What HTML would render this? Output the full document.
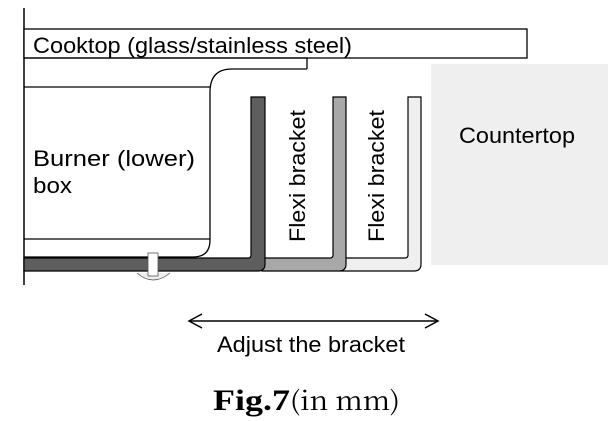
<!DOCTYPE html>
<html><head><meta charset="utf-8"><style>
html,body{margin:0;padding:0;background:#fff;}
svg{display:block;}
</style></head><body>
<svg width="614" height="421" viewBox="0 0 614 421" xmlns="http://www.w3.org/2000/svg">
<rect x="431" y="64" width="177" height="201" fill="#efefef"/>
<text x="459" y="143" font-family="Liberation Sans, sans-serif" font-size="22" textLength="116" lengthAdjust="spacingAndGlyphs" fill="#000">Countertop</text>
<line x1="24" y1="8" x2="24" y2="285" stroke="#000" stroke-width="1.5"/>
<rect x="24" y="29" width="503" height="29" fill="#fff" stroke="#000" stroke-width="1.3"/>
<text x="33" y="53" font-family="Liberation Sans, sans-serif" font-size="22" textLength="319" lengthAdjust="spacingAndGlyphs" fill="#000">Cooktop (glass/stainless steel)</text>
<polyline points="24,58 307,58 307,69" fill="none" stroke="#000" stroke-width="1.3"/>
<path d="M307,69 L232,69 Q210,69 210,92 L210,240 Q210,257 193,257 L24,257" fill="none" stroke="#000" stroke-width="1.3"/>
<line x1="24" y1="87" x2="210" y2="87" stroke="#000" stroke-width="1.3"/>
<line x1="24" y1="239" x2="210" y2="239" stroke="#000" stroke-width="1.3"/>
<text x="33" y="166" font-family="Liberation Sans, sans-serif" font-size="22" textLength="162" lengthAdjust="spacingAndGlyphs" fill="#000">Burner (lower)</text>
<text x="33" y="193" font-family="Liberation Sans, sans-serif" font-size="22" textLength="39" lengthAdjust="spacingAndGlyphs" fill="#000">box</text>
<path d="M340,258 L405,258 Q408,258 408,255 L408,97 L421,97 L421,264 Q421,271 414,271 L340,271 Z" fill="#efefef" stroke="#000" stroke-width="1.2"/>
<path d="M262,258 L330,258 Q333,258 333,255 L333,97 L346,97 L346,264 Q346,271 339,271 L262,271 Z" fill="#a8a8a8" stroke="#000" stroke-width="1.2"/>
<path d="M24,258 L248,258 Q251,258 251,255 L251,97 L265,97 L265,264 Q265,271 258,271 L24,271 Z" fill="#5e5e5e" stroke="#000" stroke-width="1.2"/>
<path d="M137,273 Q153,287 170,273" fill="#eee" stroke="#555" stroke-width="0.8"/>
<rect x="148" y="253" width="10" height="23" fill="#fff" stroke="#555" stroke-width="0.8"/>
<text transform="translate(305,242) rotate(-90)" font-family="Liberation Sans, sans-serif" font-size="22" textLength="132" lengthAdjust="spacingAndGlyphs" fill="#000">Flexi bracket</text>
<text transform="translate(384,242) rotate(-90)" font-family="Liberation Sans, sans-serif" font-size="22" textLength="132" lengthAdjust="spacingAndGlyphs" fill="#000">Flexi bracket</text>
<line x1="189" y1="321" x2="438" y2="321" stroke="#000" stroke-width="1.5"/>
<polyline points="202,314 189,321 202,328" fill="none" stroke="#000" stroke-width="1.5"/>
<polyline points="425,314 438,321 425,328" fill="none" stroke="#000" stroke-width="1.5"/>
<text x="217" y="352" font-family="Liberation Sans, sans-serif" font-size="22" textLength="188" lengthAdjust="spacingAndGlyphs" fill="#000">Adjust the bracket</text>
<text x="213" y="410" font-family="Liberation Serif, serif" font-size="30" font-weight="bold" textLength="77" lengthAdjust="spacingAndGlyphs" fill="#000">Fig.7</text>
<text x="290" y="410" font-family="'Noto Serif CJK SC', serif" font-size="26" textLength="110" lengthAdjust="spacingAndGlyphs" fill="#000">(in mm)</text>
</svg>
</body></html>
